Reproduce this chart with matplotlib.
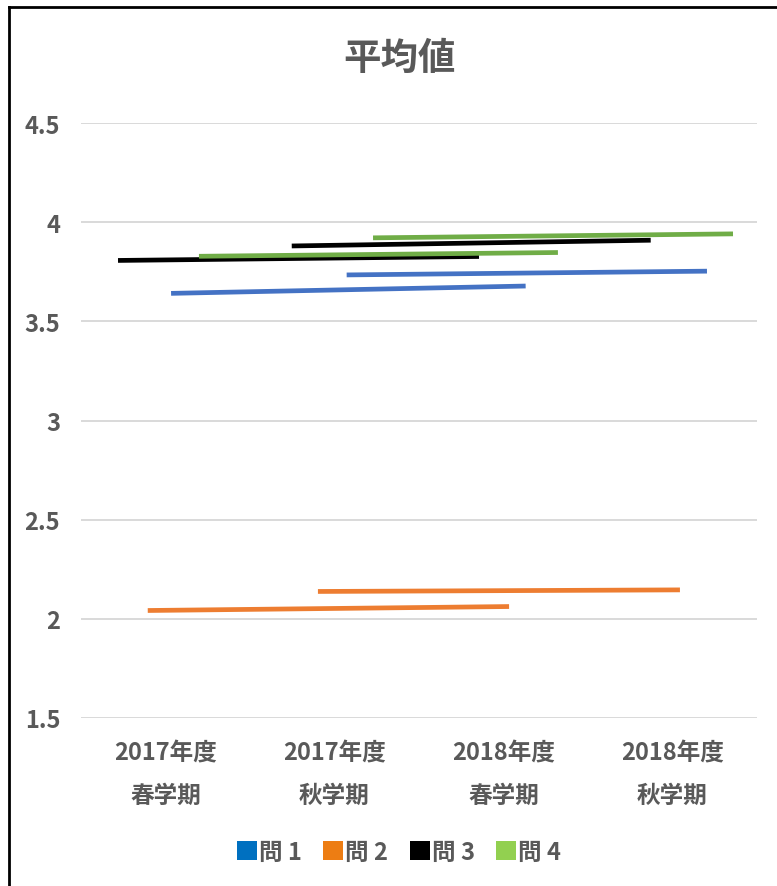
import matplotlib.pyplot as plt
from matplotlib.patches import Patch
from matplotlib.lines import Line2D

plt.rcParams['font.family'] = ['Noto Sans CJK JP', 'DejaVu Sans']

categories = ["2017年度\n春学期", "2017年度\n秋学期", "2018年度\n春学期", "2018年度\n秋学期"]
series = ["問 1", "問 2", "問 3", "問 4"]

# each series is drawn as two slanted segments: [start, end]
q1_seg1_x, q1_seg1_y = [0.033, 2.131], [3.641, 3.678]
q1_seg2_x, q1_seg2_y = [1.072, 3.204], [3.734, 3.753]
q2_seg1_x, q2_seg1_y = [-0.105, 2.033], [2.042, 2.062]
q2_seg2_x, q2_seg2_y = [0.902, 3.044], [2.138, 2.146]
q3_seg1_x, q3_seg1_y = [-0.281, 1.855], [3.807, 3.827]
q3_seg2_x, q3_seg2_y = [0.747, 2.871], [3.880, 3.909]
q4_seg1_x, q4_seg1_y = [0.198, 2.322], [3.828, 3.847]
q4_seg2_x, q4_seg2_y = [1.228, 3.358], [3.921, 3.941]

line_colors = ["#4472C4", "#ED7D31", "#000000", "#70AD47"]
legend_colors = ["#0070C0", "#ED7D13", "#000000", "#92D050"]
text_color = "#595959"

fig = plt.figure(figsize=(7.77, 8.87), dpi=100)
W, H = 777, 887
ax = fig.add_axes([81 / W, (H - 719) / H, (757 - 81) / W, (719 - 124) / H])

segments = [
    [(q1_seg1_x, q1_seg1_y), (q1_seg2_x, q1_seg2_y)],
    [(q2_seg1_x, q2_seg1_y), (q2_seg2_x, q2_seg2_y)],
    [(q3_seg1_x, q3_seg1_y), (q3_seg2_x, q3_seg2_y)],
    [(q4_seg1_x, q4_seg1_y), (q4_seg2_x, q4_seg2_y)],
]
for segs, c in zip(segments, line_colors):
    for xs, ys in segs:
        ax.plot(xs, ys, color=c, linewidth=3.4, solid_capstyle="butt", zorder=3)

ax.set_xlim(-0.5, 3.5)
ax.set_ylim(1.5, 4.5)
ax.set_yticks([1.5, 2, 2.5, 3, 3.5, 4, 4.5])
ax.set_yticklabels(["1.5", "2", "2.5", "3", "3.5", "4", "4.5"])
ax.set_xticks(range(4))
ax.set_xticklabels(categories, linespacing=2.0)
ax.tick_params(length=0, labelsize=17, labelcolor=text_color)
ax.tick_params(axis="y", pad=15)
ax.tick_params(axis="x", pad=16)
for lbl in ax.get_xticklabels() + ax.get_yticklabels():
    lbl.set_fontweight("bold")
ax.grid(axis="y", color="#D9D9D9", linewidth=1.4)
ax.set_axisbelow(True)
for s in ax.spines.values():
    s.set_visible(False)

fig.text(400 / W, 1 - 58 / H, "平均値", ha="center", va="center",
         fontsize=27, fontweight="bold", color=text_color)

handles = [Patch(facecolor=c, edgecolor="none") for c in legend_colors]
leg = fig.legend(handles, series, loc="center", bbox_to_anchor=(399 / W, 1 - 853 / H),
                 ncol=4, frameon=False, handlelength=0.85, handleheight=0.85,
                 handletextpad=0.08, columnspacing=0.9,
                 prop={"size": 17, "weight": "bold"})
for t in leg.get_texts():
    t.set_color(text_color)

# chart border (top and left only visible)
fig.add_artist(Line2D([8.5 / W, 8.5 / W], [0, 1 - 8 / H], transform=fig.transFigure,
                      color="black", linewidth=2))
fig.add_artist(Line2D([8.5 / W, 1], [1 - 8 / H, 1 - 8 / H], transform=fig.transFigure,
                      color="black", linewidth=2))

fig.savefig("out.png", dpi=100)
